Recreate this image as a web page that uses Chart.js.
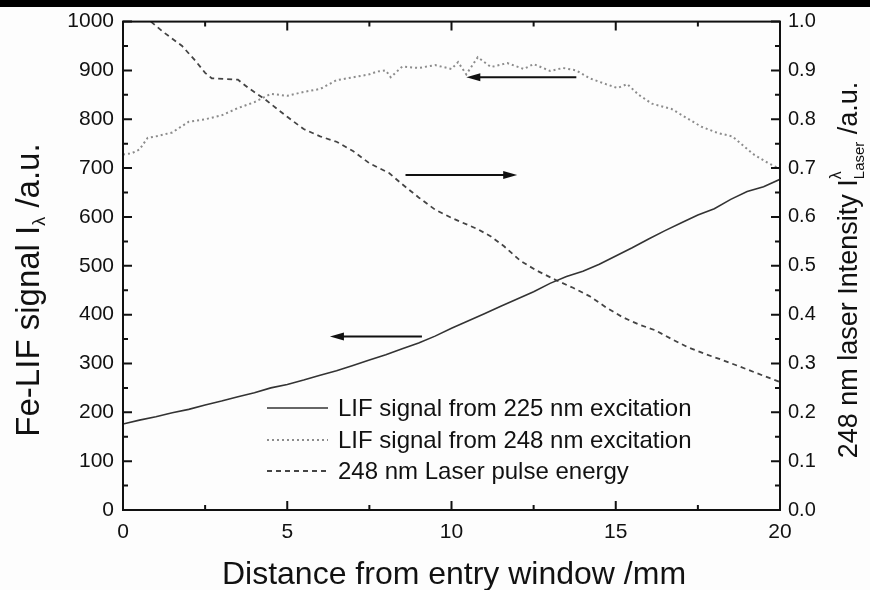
<!DOCTYPE html>
<html>
<head>
<meta charset="utf-8">
<script src="https://cdn.jsdelivr.net/npm/chart.js@4.4.1/dist/chart.umd.min.js"></script>
<style>
  html, body { margin: 0; padding: 0; background: #fff; }
  #wrap { width: 870px; height: 590px; }
</style>
</head>
<body>
<div id="wrap"><canvas id="lifChart" width="870" height="590"></canvas></div>
<script>
// LIF signal, 225 nm excitation (left axis)
const lif225Dist = [0, 0.5, 1, 1.5, 2, 2.5, 3, 3.5, 4, 4.5, 5, 5.5, 6, 6.5, 7, 7.5, 8, 8.5, 9, 9.5,
  10, 10.5, 11, 11.5, 12, 12.5, 13, 13.5, 14, 14.5, 15, 15.5, 16, 16.5, 17, 17.5, 18, 18.5, 19, 19.5, 20];
const lif225Signal = [176, 184, 191, 199, 206, 215, 223, 232, 240, 250, 257, 266, 276, 285, 296, 307, 318, 330, 342, 356,
  372, 387, 402, 417, 432, 447, 464, 478, 489, 503, 520, 537, 555, 572, 588, 604, 617, 636, 652, 662, 677];

// LIF signal, 248 nm excitation (left axis)
const lif248Dist = [0, 0.25, 0.5, 0.75, 1, 1.5, 2, 2.5, 3, 3.5, 4, 4.5, 5, 5.5, 6, 6.5, 7, 7.5, 7.75, 8, 8.15,
  8.5, 9, 9.5, 10, 10.2, 10.45, 10.8, 11.2, 11.7, 12.2, 12.5, 13, 13.4, 13.8, 14.2, 14.7, 15.05, 15.35,
  15.7, 16.1, 16.7, 17.1, 17.6, 18.1, 18.55, 18.9, 19.2, 19.6, 20];
const lif248Signal = [728, 730, 738, 762, 765, 773, 795, 800, 808, 823, 835, 852, 848, 856, 862, 880, 886, 892, 898, 900, 886,
  908, 905, 911, 903, 917, 892, 927, 907, 915, 903, 913, 899, 905, 900, 884, 872, 864, 872,
  850, 832, 821, 805, 785, 772, 765, 745, 728, 712, 698];

// 248 nm laser pulse energy (right axis)
const laserDist = [0.85, 1.2, 1.8, 2.2, 2.5, 2.7, 3.5, 3.8, 4.3, 5, 5.5, 6, 6.5, 7, 7.5, 8.1, 8.5, 9, 9.5, 10,
  10.8, 11.2, 11.6, 12.1, 12.6, 13.2, 13.7, 14.2, 14.7, 15.2, 15.7, 16.2, 16.7, 17.2, 17.7, 18.25, 18.8, 19.3, 20];
const laserEnergy = [1.0, 0.98, 0.95, 0.92, 0.895, 0.884, 0.881, 0.865, 0.842, 0.805, 0.78, 0.765, 0.754, 0.735, 0.71, 0.69, 0.667, 0.64, 0.615, 0.598,
  0.575, 0.56, 0.54, 0.51, 0.49, 0.47, 0.455, 0.438, 0.415, 0.395, 0.38, 0.368, 0.35, 0.333, 0.32, 0.307, 0.293, 0.28, 0.262];

const seriesLabels = ["LIF signal from 225 nm excitation", "LIF signal from 248 nm excitation", "248 nm Laser pulse energy"];

// arrows telling which axis a curve belongs to: [fromX, toX, yLeft]
const arrowFrom = [13.8, 8.6, 9.1];
const arrowTo = [10.45, 12.0, 6.3];
const arrowLevel = [886, 686, 355];

const FONT = "'Liberation Sans', Arial, sans-serif";

function pts(xs, ys) {
    return xs.map((x, i) => ({ x: x, y: ys[i] }));
}

// parts: [text, size, dy, stacked]; a stacked part sits under the previous one
function drawRich(ctx, parts, cx, cy) {
    let widths = parts.map(p => {
        ctx.font = p[1] + "px " + FONT;
        return ctx.measureText(p[0]).width;
    });
    let total = 0, lastW = 0;
    parts.forEach((p, i) => {
        if (p[3]) {
            total += Math.max(0, widths[i] - lastW);
        } else {
            total += widths[i];
            lastW = widths[i];
        }
    });
    let x = cx - total / 2;
    let startPrev = x;
    lastW = 0;
    parts.forEach((p, i) => {
        ctx.font = p[1] + "px " + FONT;
        if (p[3]) {
            ctx.fillText(p[0], startPrev, cy + p[2]);
            x = Math.max(x, startPrev + widths[i]);
        } else {
            ctx.fillText(p[0], x, cy + p[2]);
            startPrev = x;
            x += widths[i];
        }
    });
}

const framePlugin = {
    id: "frame",
    beforeDraw(chart) {
        let ctx = chart.ctx;
        ctx.save();
        ctx.fillStyle = "#fdfdfd";
        ctx.fillRect(0, 0, chart.width, chart.height);
        ctx.fillStyle = "#000";
        ctx.fillRect(0, 0, chart.width, 7);
        ctx.restore();
    },
    afterDatasetsDraw(chart) {
        let ctx = chart.ctx;
        let a = chart.chartArea;
        let xs = chart.scales.x, yl = chart.scales.y, yr = chart.scales.y2;
        ctx.save();
        ctx.strokeStyle = "#111";
        ctx.lineWidth = 2;
        ctx.strokeRect(a.left, a.top, a.right - a.left, a.bottom - a.top);

        ctx.lineWidth = 2;
        ctx.beginPath();
        for (let v = 0; v <= 20; v += 2.5) {
            let px = xs.getPixelForValue(v);
            let len = (v % 5 === 0) ? 9 : 5;
            ctx.moveTo(px, a.bottom); ctx.lineTo(px, a.bottom - len);
            ctx.moveTo(px, a.top); ctx.lineTo(px, a.top + len);
        }
        for (let v = 0; v <= 1000; v += 50) {
            let py = yl.getPixelForValue(v);
            let len = (v % 100 === 0) ? 9 : 5;
            ctx.moveTo(a.left, py); ctx.lineTo(a.left + len, py);
        }
        for (let k = 0; k <= 20; k++) {
            let py = yr.getPixelForValue(k * 0.05);
            let len = (k % 2 === 0) ? 9 : 5;
            ctx.moveTo(a.right, py); ctx.lineTo(a.right - len, py);
        }
        ctx.stroke();

        // arrows
        ctx.fillStyle = "#111";
        ctx.lineWidth = 2;
        for (let i = 0; i < arrowFrom.length; i++) {
            let x0 = xs.getPixelForValue(arrowFrom[i]);
            let x1 = xs.getPixelForValue(arrowTo[i]);
            let py = yl.getPixelForValue(arrowLevel[i]);
            let dir = x1 > x0 ? 1 : -1;
            ctx.beginPath();
            ctx.moveTo(x0, py); ctx.lineTo(x1 - dir * 10, py);
            ctx.stroke();
            ctx.beginPath();
            ctx.moveTo(x1, py);
            ctx.lineTo(x1 - dir * 14, py - 4);
            ctx.lineTo(x1 - dir * 14, py + 4);
            ctx.closePath();
            ctx.fill();
        }

        // legend
        let rows = [408, 440, 471];
        chart.data.datasets.forEach((ds, i) => {
            ctx.strokeStyle = ds.borderColor;
            ctx.lineWidth = ds.borderWidth;
            ctx.setLineDash(ds.borderDash || []);
            ctx.beginPath();
            ctx.moveTo(267, rows[i]); ctx.lineTo(328, rows[i]);
            ctx.stroke();
            ctx.setLineDash([]);
            ctx.fillStyle = "#111";
            ctx.font = "24px " + FONT;
            ctx.textBaseline = "middle";
            ctx.textAlign = "left";
            ctx.fillText(seriesLabels[i], 338, rows[i] + 1);
        });

        // axis titles
        ctx.fillStyle = "#111";
        ctx.textBaseline = "middle";
        ctx.textAlign = "left";
        drawRich(ctx, [["Distance from entry window /mm", 32, 0]], 454, 575);

        ctx.save();
        ctx.translate(30, 290);
        ctx.rotate(-Math.PI / 2);
        drawRich(ctx, [["Fe-LIF signal I", 33, 0], ["\u03bb", 18, 10], [" /a.u.", 33, 0]], 0, 0);
        ctx.restore();

        ctx.save();
        ctx.translate(850, 270);
        ctx.rotate(-Math.PI / 2);
        drawRich(ctx, [["248 nm laser Intensity I", 27, 0], ["\u03bb", 16, -13], ["Laser", 15, 10, true], [" /a.u.", 27, 0]], 0, 0);
        ctx.restore();
        ctx.restore();
    }
};

let ctx = document.getElementById("lifChart").getContext("2d");
new Chart(ctx, {
    type: "line",
    data: {
        datasets: [
            {
                label: seriesLabels[0],
                data: pts(lif225Dist, lif225Signal),
                yAxisID: "y",
                borderColor: "#333",
                borderWidth: 1.6,
                pointRadius: 0,
                fill: false
            },
            {
                label: seriesLabels[1],
                data: pts(lif248Dist, lif248Signal),
                yAxisID: "y",
                borderColor: "#8c8c8c",
                borderWidth: 2,
                borderDash: [2, 3],
                pointRadius: 0,
                fill: false
            },
            {
                label: seriesLabels[2],
                data: pts(laserDist, laserEnergy),
                yAxisID: "y2",
                borderColor: "#444",
                borderWidth: 1.8,
                borderDash: [5, 4],
                pointRadius: 0,
                fill: false
            }
        ]
    },
    options: {
        responsive: false,
        animation: false,
        layout: { padding: { top: 18 } },
        plugins: {
            legend: { display: false },
            tooltip: { enabled: false }
        },
        scales: {
            x: {
                type: "linear",
                min: 0,
                max: 20,
                grid: { display: false, drawTicks: false },
                border: { display: false },
                ticks: { stepSize: 5, padding: 10, color: "#111", font: { size: 21, family: FONT } },
                afterFit: s => { s.height = 80; }
            },
            y: {
                position: "left",
                min: 0,
                max: 1000,
                grid: { display: false, drawTicks: false },
                border: { display: false },
                ticks: {
                    stepSize: 100, padding: 9, color: "#111", font: { size: 21, family: FONT },
                    callback: v => String(v)
                },
                afterFit: s => { s.width = 123; }
            },
            y2: {
                position: "right",
                min: 0,
                max: 1,
                grid: { display: false, drawTicks: false },
                border: { display: false },
                ticks: {
                    stepSize: 0.1, padding: 8, color: "#111", font: { size: 20, family: FONT },
                    callback: v => v.toFixed(1)
                },
                afterFit: s => { s.width = 90; }
            }
        }
    },
    plugins: [framePlugin]
});
</script>
</body>
</html>
